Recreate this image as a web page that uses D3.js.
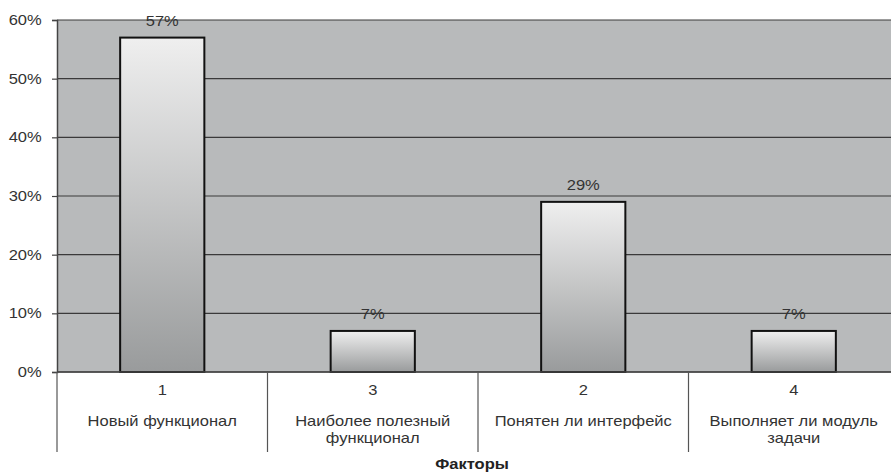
<!DOCTYPE html>
<html>
<head>
<meta charset="utf-8">
<script src="https://cdn.jsdelivr.net/npm/d3@7"></script>
<style>
  html, body { margin: 0; padding: 0; background: #fff; }
  svg { display: block; font-family: "Liberation Sans", Arial, sans-serif; }
</style>
</head>
<body>
<svg id="chart" width="891" height="473"></svg>
<script>
// Survey factors: order code, name (split into lines) and share of answers
const codes = ["1", "3", "2", "4"];
const names = [
  ["Новый функционал"],
  ["Наиболее полезный", "функционал"],
  ["Понятен ли интерфейс"],
  ["Выполняет ли модуль", "задачи"]
];
const shares = [57, 7, 29, 7];
const yTicks = [0, 10, 20, 30, 40, 50, 60];
const axisTitle = "Факторы";

const svg = d3.select("#chart");
const W = 891, H = 473;
const margin = { left: 57, top: 20, right: -8, bottom: 101 };
const plotW = W - margin.left - margin.right;
const plotH = H - margin.top - margin.bottom;
const FS = 14;          // label font size
const SX = 1.18;        // horizontal stretch of the label lettering

const x = d3.scaleBand().domain(codes).range([0, plotW]).paddingInner(0.6).paddingOuter(0.3);
const xCat = d3.scaleBand().domain(codes).range([0, plotW]).padding(0);
const y = d3.scaleLinear().domain([0, 60]).range([plotH, 0]);

// text placed at (px, py) with the wide lettering
function label(parent, px, py, str, opts = {}) {
  return parent.append("text")
    .attr("transform", `translate(${px},${py}) scale(${SX},1)`)
    .attr("text-anchor", opts.anchor || "middle")
    .attr("font-size", opts.size || FS)
    .attr("font-weight", opts.weight || "normal")
    .attr("fill", opts.fill || "#333")
    .text(str);
}

const defs = svg.append("defs");
const grad = defs.append("linearGradient")
  .attr("id", "barFill").attr("x1", 0).attr("y1", 0).attr("x2", 0).attr("y2", 1);
grad.append("stop").attr("offset", "0%").attr("stop-color", "#efefef");
grad.append("stop").attr("offset", "100%").attr("stop-color", "#999b9c");

const g = svg.append("g").attr("transform", `translate(${margin.left},${margin.top})`);

// plot background
g.append("rect").attr("x", 0).attr("y", 0).attr("width", plotW).attr("height", plotH)
  .attr("fill", "#b8babb");

// horizontal gridlines
g.selectAll("line.grid").data(yTicks).join("line")
  .attr("class", "grid")
  .attr("x1", 0).attr("x2", plotW)
  .attr("y1", d => y(d)).attr("y2", d => y(d))
  .attr("stroke", "#3a3a3a").attr("stroke-width", 1.2);

// y axis
const yAxis = g.append("g")
  .call(d3.axisLeft(y).tickValues(yTicks).tickFormat(d => d + "%").tickSize(5).tickPadding(8));
yAxis.select(".domain").attr("stroke", "#444").attr("stroke-width", 1.5);
yAxis.selectAll(".tick line").attr("stroke", "#444").attr("stroke-width", 1.2);
yAxis.selectAll(".tick text").attr("fill", "#333").attr("font-size", FS)
  .attr("font-family", "Liberation Sans, Arial, sans-serif")
  .attr("transform", `scale(${SX},1)`);

// bars
g.selectAll("rect.bar").data(codes).join("rect")
  .attr("class", "bar")
  .attr("x", d => x(d))
  .attr("y", (d, i) => y(shares[i]))
  .attr("width", x.bandwidth())
  .attr("height", (d, i) => plotH - y(shares[i]))
  .attr("fill", "url(#barFill)")
  .attr("stroke", "#111").attr("stroke-width", 2);

// value labels
codes.forEach((d, i) => {
  label(g, x(d) + x.bandwidth() / 2, y(shares[i]) - 12, shares[i] + "%");
});

// x axis baseline
g.append("line").attr("x1", 0).attr("x2", plotW).attr("y1", plotH).attr("y2", plotH)
  .attr("stroke", "#444").attr("stroke-width", 1.5);

// category separators below the axis
const seps = codes.map(d => xCat(d)).concat([plotW]);
g.selectAll("line.sep").data(seps).join("line")
  .attr("class", "sep")
  .attr("x1", d => d).attr("x2", d => d)
  .attr("y1", plotH).attr("y2", plotH + 80)
  .attr("stroke", "#555").attr("stroke-width", 1.2);

// category codes and names
codes.forEach((d, i) => {
  const cx = xCat(d) + xCat.bandwidth() / 2;
  label(g, cx, plotH + 23, d);
  names[i].forEach((line, k) => label(g, cx, plotH + 54 + k * 17, line));
});

// axis title
label(svg, 472, 469, axisTitle, { weight: "bold", fill: "#222" });
</script>
</body>
</html>
